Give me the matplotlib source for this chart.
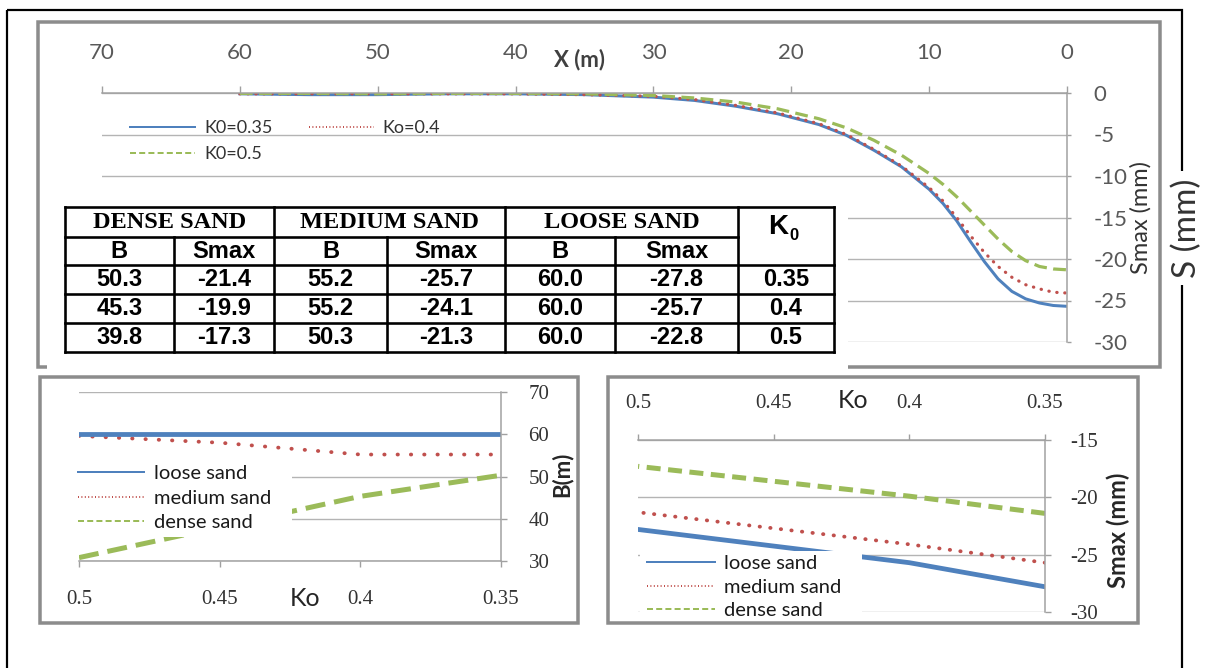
import matplotlib
matplotlib.use("Agg")
import matplotlib.pyplot as plt
from matplotlib.lines import Line2D
from matplotlib.patches import Rectangle

plt.rcParams['font.family'] = ['Lato', 'DejaVu Sans']

W, H = 1208, 668

# settlement trough S(x) for medium sand, three K0 values
x_m = [60, 55, 50, 45, 40, 35, 30, 27, 24, 21, 18, 16, 14, 12, 10, 9, 8, 7, 6, 5, 4, 3, 2, 1, 0]
s_k035 = [-0.1, -0.2, -0.2, -0.1, -0.1, -0.2, -0.5, -0.9, -1.6, -2.5, -3.8, -5.1, -6.9, -8.9,
          -11.6, -13.3, -15.4, -17.9, -20.3, -22.4, -23.9, -24.8, -25.3, -25.6, -25.7]
s_k04 = [-0.1, -0.1, -0.1, -0.1, -0.1, -0.2, -0.4, -0.8, -1.5, -2.4, -3.7, -5.0, -6.8, -8.8,
         -11.4, -13.0, -15.0, -17.2, -19.2, -20.9, -22.2, -23.1, -23.6, -24.0, -24.1]
s_k05 = [-0.05, -0.05, -0.1, -0.05, -0.05, -0.1, -0.3, -0.6, -1.1, -1.9, -3.1, -4.2, -5.7, -7.5,
         -9.7, -11.0, -12.5, -14.2, -15.9, -17.6, -19.1, -20.2, -20.9, -21.2, -21.3]

# summary table
k0_rows = [0.35, 0.4, 0.5]
dense_b = [50.3, 45.3, 39.8]
dense_smax = [-21.4, -19.9, -17.3]
medium_b = [55.2, 55.2, 50.3]
medium_smax = [-25.7, -24.1, -21.3]
loose_b = [60.0, 60.0, 60.0]
loose_smax = [-27.8, -25.7, -22.8]

# trough width B against Ko
ko_pts = [0.5, 0.45, 0.4, 0.35]
loose_b_line = [60, 60, 60, 60]
medium_b_line = [59.6, 58.0, 55.2, 55.2]
dense_b_line = [30.8, 38.0, 45.3, 50.3]

BLUE = '#4f81bd'
RED = '#c0504d'
GREEN = '#9bbb59'
AXC = '#a0a0a0'
GRIDC = '#b4b4b4'


def px(v):
    # pixels -> points at 100 dpi
    return v * 0.72


def box(l, t, r, b):
    return [l / W, 1 - b / H, (r - l) / W, (b - t) / H]


fig = plt.figure(figsize=(W / 100, H / 100), dpi=100)

# ---------------- top chart: S vs X ----------------
ax1 = fig.add_axes(box(102, 93, 1067, 342))
ax1.plot(x_m, s_k035, color=BLUE, lw=px(3))
ax1.plot(x_m, s_k04, color=RED, lw=px(3.2), ls=(0, (0.1, 2.4)), dash_capstyle='round')
ax1.plot(x_m, s_k05, color=GREEN, lw=px(3.2), ls=(0, (4, 2)))
ax1.set_xlim(70, 0)
ax1.set_ylim(-30, 0)
ax1.xaxis.tick_top()
ax1.yaxis.tick_right()
xt = list(range(0, 71, 10))
yt = list(range(-30, 1, 5))
ax1.set_xticks(xt, labels=[str(v) for v in xt], fontsize=16, color='#595959')
ax1.set_yticks(yt, labels=[str(v) for v in yt], fontsize=16, color='#595959')
ax1.tick_params(axis='x', direction='out', length=5, width=1, color=AXC, pad=px(23))
ax1.tick_params(axis='y', direction='out', length=3, width=1, color=AXC, pad=px(22))

# ---------------- bottom left: B vs Ko ----------------
ax2 = fig.add_axes(box(79, 392, 501, 561))
ax2.plot(ko_pts, dense_b_line, color=GREEN, lw=px(5), ls=(0, (4, 1.8)))
ax2.plot(ko_pts, medium_b_line, color=RED, lw=px(3.8), ls=(0, (0.1, 3.4)), dash_capstyle='round')
ax2.plot(ko_pts, loose_b_line, color=BLUE, lw=px(4.8))
ax2.set_xlim(0.5, 0.35)
ax2.set_ylim(30, 70)
ax2.yaxis.tick_right()
bt = [30, 40, 50, 60, 70]
ax2.set_xticks(ko_pts, labels=['{:g}'.format(v) for v in ko_pts],
               fontsize=15, family='Liberation Serif', color='#333333')
ax2.set_yticks(bt, labels=[str(v) for v in bt], fontsize=15, family='Liberation Serif', color='#333333')
ax2.tick_params(axis='x', direction='out', length=4, width=1, color=AXC, pad=px(23))
ax2.tick_params(axis='y', direction='out', length=4, width=1, color=AXC, pad=px(22))

# ---------------- bottom right: Smax vs Ko ----------------
ax3 = fig.add_axes(box(638, 440, 1045, 612))
ax3.plot(k0_rows, dense_smax, color=GREEN, lw=px(5), ls=(0, (2.8, 1.5)))
ax3.plot(k0_rows, medium_smax, color=RED, lw=px(3.8), ls=(0, (0.1, 2.7)), dash_capstyle='round')
ax3.plot(k0_rows, loose_smax, color=BLUE, lw=px(4.8))
ax3.set_xlim(0.5, 0.35)
ax3.set_ylim(-30, -15)
ax3.xaxis.tick_top()
ax3.yaxis.tick_right()
st = [-30, -25, -20, -15]
ax3.set_xticks(ko_pts, labels=['{:g}'.format(v) for v in ko_pts],
               fontsize=15, family='Liberation Serif', color='#333333')
ax3.set_yticks(st, labels=[str(v) for v in st], fontsize=15, family='Liberation Serif', color='#333333')
ax3.tick_params(axis='x', direction='out', length=4, width=1, color=AXC, pad=px(21))
ax3.tick_params(axis='y', direction='out', length=4, width=1, color=AXC, pad=px(20))

for ax, shown in ((ax1, ('top', 'right')), (ax2, ('bottom', 'right')), (ax3, ('top', 'right'))):
    for side, sp in ax.spines.items():
        if side in shown:
            sp.set_color(AXC)
            sp.set_linewidth(px(1.5))
        else:
            sp.set_visible(False)
    ax.grid(axis='y', color=GRIDC, lw=px(1.4))
    ax.grid(axis='x', visible=False)
    ax.set_axisbelow(True)

# ---------------- overlay in pixel coordinates ----------------
ov = fig.add_axes([0, 0, 1, 1])
ov.set_zorder(5)
ov.set_xlim(0, W)
ov.set_ylim(H, 0)
ov.axis('off')

FRAME = '#8c8c8c'
# outer border of the figure
ov.add_patch(Rectangle((7, 10), 1182 - 7, 700, fc='none', ec='black', lw=px(2.2), clip_on=False, zorder=1))
# chart frames and white areas laid over them
ov.add_patch(Rectangle((38, 22), 1160 - 38, 367 - 22, fc='none', ec=FRAME, lw=px(3.5), zorder=1))
ov.add_patch(Rectangle((47, 195), 848 - 47, 375 - 195, fc='white', ec='none', zorder=2))
ov.add_patch(Rectangle((70, 458), 292 - 70, 537 - 458, fc='white', ec='none', zorder=2))
ov.add_patch(Rectangle((640, 551), 862 - 640, 620 - 551, fc='white', ec='none', zorder=2))
ov.add_patch(Rectangle((40, 377), 578 - 40, 623 - 377, fc='none', ec=FRAME, lw=px(3.5), zorder=3))
ov.add_patch(Rectangle((608, 377), 1138 - 608, 623 - 377, fc='none', ec=FRAME, lw=px(3.5), zorder=3))

# axis titles
ov.text(580, 60, 'X (m)', ha='center', va='center', fontsize=16, fontweight='bold', color='#404040')
ov.text(1141, 218, 'Smax (mm)', rotation=90, ha='center', va='center', fontsize=17, color='#333333')
ov.text(1187, 228, 'S (mm)', rotation=90, ha='center', va='center', fontsize=24, color='#333333',
        bbox=dict(fc='white', ec='none', pad=5), zorder=6)
ov.text(305, 598, 'Ko', ha='center', va='center', fontsize=18, color='#262626')
ov.text(562, 474, 'B(m)', rotation=90, ha='center', va='center', fontsize=16, fontweight='bold', color='#262626')
ov.text(853, 400, 'Ko', ha='center', va='center', fontsize=18, color='#262626')
ov.text(1118, 530, 'Smax (mm)', rotation=90, ha='center', va='center', fontsize=17, fontweight='bold',
        color='#262626')

# legends
h_blue = Line2D([], [], color=BLUE, lw=px(2))
h_red = Line2D([], [], color=RED, lw=px(2), ls=(0, (0.5, 1.2)))
h_green = Line2D([], [], color=GREEN, lw=px(2), ls=(0, (3, 1.6)))

lg1 = ov.legend([h_blue, h_green, h_red], ['K0=0.35', 'K0=0.5', 'Ko=0.4'], ncol=2,
                loc='center left', bbox_to_anchor=(130, 141), bbox_transform=ov.transData,
                frameon=False, fontsize=13, borderpad=0, borderaxespad=0,
                handlelength=3.6, handletextpad=0.5, columnspacing=2.0, labelspacing=0.55,
                labelcolor='#333333')
ov.add_artist(lg1)
lg2 = ov.legend([h_blue, h_red, h_green], ['loose sand', 'medium sand', 'dense sand'],
                loc='center left', bbox_to_anchor=(78, 498), bbox_transform=ov.transData,
                frameon=False, fontsize=14.5, borderpad=0, borderaxespad=0,
                handlelength=3.3, handletextpad=0.45, labelspacing=0.38, labelcolor='#1a1a1a')
ov.add_artist(lg2)
lg3 = ov.legend([h_blue, h_red, h_green], ['loose sand', 'medium sand', 'dense sand'],
                loc='center left', bbox_to_anchor=(647, 587), bbox_transform=ov.transData,
                frameon=False, fontsize=14.5, borderpad=0, borderaxespad=0,
                handlelength=3.4, handletextpad=0.4, labelspacing=0.33, labelcolor='#1a1a1a')
for lg in (lg1, lg2, lg3):
    lg.set_zorder(5)

# ---------------- table ----------------
cols = [65, 173.5, 274, 387, 505, 615, 738, 834]
rows = [207, 237, 265, 294, 323, 352]
TLW = px(2.6)
ov.add_patch(Rectangle((cols[0], rows[0]), cols[-1] - cols[0], rows[-1] - rows[0],
                       fc='white', ec='none', zorder=3))
for i, y in enumerate(rows):
    x_end = cols[6] if i == 1 else cols[-1]
    ov.plot([cols[0], x_end], [y, y], color='black', lw=TLW, solid_capstyle='projecting', zorder=4)
for j, x in enumerate(cols):
    y_start = rows[1] if j in (1, 3, 5) else rows[0]
    ov.plot([x, x], [y_start, rows[-1]], color='black', lw=TLW, solid_capstyle='projecting', zorder=4)

groups = ['DENSE SAND', 'MEDIUM SAND', 'LOOSE SAND']
for g, name in enumerate(groups):
    cx = (cols[2 * g] + cols[2 * g + 2]) / 2
    ov.text(cx, (rows[0] + rows[1]) / 2 + 1, name, ha='center', va='center', fontsize=17.5,
            family='Liberation Serif', fontweight='bold', zorder=4)
    for k, sub in enumerate(['B', 'Smax']):
        sx = (cols[2 * g + k] + cols[2 * g + k + 1]) / 2
        ov.text(sx, (rows[1] + rows[2]) / 2, sub, ha='center', va='center', fontsize=17,
                family='Liberation Sans', fontweight='bold', zorder=4)

ov.text(778, 227, 'K', ha='center', va='center', fontsize=20, family='Liberation Sans',
        fontweight='bold', zorder=4)
ov.text(794, 235, '0', ha='center', va='center', fontsize=12, family='Liberation Sans',
        fontweight='bold', zorder=4)

table_cols = [dense_b, dense_smax, medium_b, medium_smax, loose_b, loose_smax]
for r in range(len(k0_rows)):
    cy = (rows[r + 2] + rows[r + 3]) / 2
    for c, vals in enumerate(table_cols):
        cx = (cols[c] + cols[c + 1]) / 2
        ov.text(cx, cy, '{:.1f}'.format(vals[r]), ha='center', va='center', fontsize=17,
                family='Liberation Sans', fontweight='bold', zorder=4)
    ov.text((cols[6] + cols[7]) / 2, cy, '{:g}'.format(k0_rows[r]), ha='center', va='center',
            fontsize=17, family='Liberation Sans', fontweight='bold', zorder=4)

fig.savefig('out.png', dpi=100)
